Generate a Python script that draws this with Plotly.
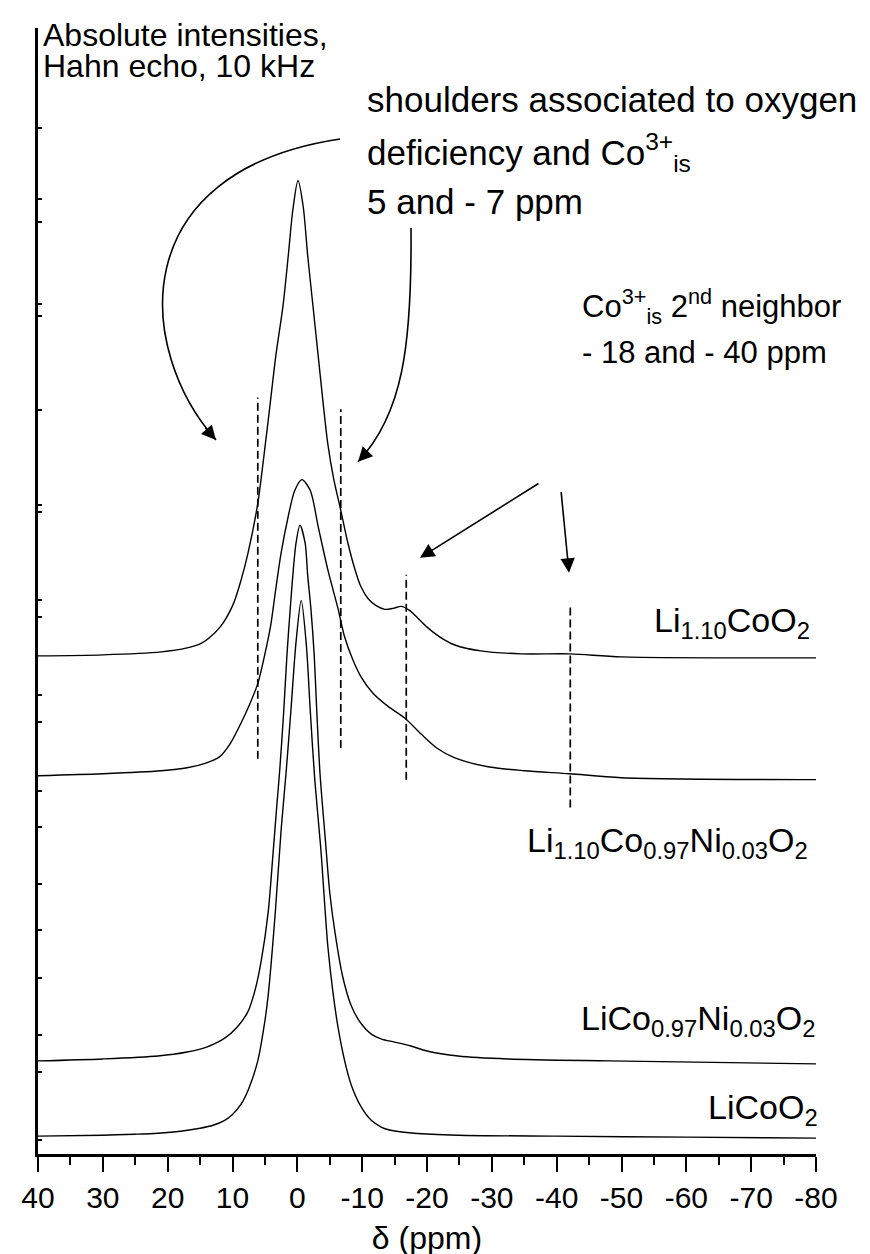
import plotly.graph_objects as go

# ---------------- data ----------------
# chemical shift (ppm) and intensity (a.u., relative to each trace's own baseline)
ppm_li110coo2 = [40.0, 30.0, 21.0, 17.0, 15.0, 13.8, 11.8, 9.9, 8.7, 7.6, 6.1, 5.3, 4.2, 3.3, 2.2,
                 1.4, 0.7, -0.1, -0.9, -1.6, -2.4, -3.2, -4.0, -4.7, -5.6, -6.7, -7.8, -8.9, -9.8,
                 -10.9, -12.1, -13.5, -14.8, -16.0, -17.3, -18.6, -20.0, -22.0, -24.3, -28.3,
                 -34.5, -42.1, -50.0, -80.0]
int_li110coo2 = [0.00, 0.01, 0.04, 0.08, 0.12, 0.17, 0.30, 0.52, 0.76, 1.04, 1.54, 1.94, 2.54, 3.04, 3.54,
                 4.04, 4.50, 4.80, 4.54, 4.04, 3.54, 3.04, 2.54, 2.14, 1.79, 1.47, 1.14, 0.87, 0.70,
                 0.58, 0.51, 0.47, 0.48, 0.50, 0.46, 0.38, 0.29, 0.19, 0.11, 0.05,
                 0.02, 0.02, -0.01, -0.02]

ppm_li110coni = [40.0, 30.0, 21.0, 17.0, 14.0, 12.0, 10.3, 8.7, 7.3, 6.1, 5.1, 4.1, 3.4, 2.5, 1.4,
                 0.4, -0.7, -2.0, -3.2, -4.7, -6.3, -7.3, -8.5, -9.8, -11.7, -14.0, -16.6, -19.1,
                 -21.5, -24.3, -29.4, -35.0, -42.0, -50.0, -80.0]
int_li110coni = [0.00, 0.02, 0.05, 0.08, 0.13, 0.19, 0.33, 0.53, 0.73, 0.93, 1.20, 1.52, 1.85, 2.25, 2.62,
                 2.88, 2.99, 2.88, 2.52, 2.08, 1.68, 1.40, 1.18, 1.00, 0.83, 0.70, 0.58, 0.42,
                 0.28, 0.18, 0.09, 0.05, 0.02, -0.02, -0.04]

ppm_liconi = [40.0, 30.0, 21.5, 17.0, 14.0, 11.2, 9.3, 7.6, 6.5, 5.6, 4.5, 3.8, 3.2, 2.7, 2.1,
              1.6, 1.1, 0.7, 0.2, -0.4, -1.2, -1.6, -2.1, -2.6, -3.0, -3.5, -4.3, -5.0, -5.8,
              -7.0, -8.3, -9.8, -11.4, -13.0, -15.0, -17.5, -20.0, -24.8, -32.5, -48.0, -80.0]
int_liconi = [0.00, 0.02, 0.05, 0.09, 0.14, 0.23, 0.34, 0.50, 0.72, 1.00, 1.50, 2.05, 2.55, 2.95, 3.53,
              4.10, 4.56, 4.90, 5.23, 5.41, 5.23, 4.90, 4.56, 4.10, 3.53, 2.90, 2.25, 1.70, 1.30,
              0.85, 0.56, 0.38, 0.27, 0.22, 0.19, 0.15, 0.10, 0.05, 0.02, 0.00, -0.03]

ppm_licoo2 = [40.0, 30.0, 25.0, 21.5, 18.0, 15.0, 13.0, 11.2, 10.0, 8.7, 7.5, 6.1, 5.2, 4.5, 3.4,
              2.5, 1.7, 1.0, 0.2, -0.6, -1.4, -2.0, -2.7, -3.6, -4.7, -5.5, -6.3, -7.3, -8.3,
              -9.8, -11.4, -13.0, -14.4, -18.0, -24.8, -40.0, -60.0, -80.0]
int_licoo2 = [0.00, 0.01, 0.02, 0.03, 0.05, 0.08, 0.11, 0.16, 0.22, 0.32, 0.48, 0.76, 1.08, 1.42, 2.26,
              3.09, 3.70, 4.29, 4.99, 5.41, 4.95, 4.29, 3.59, 2.92, 1.92, 1.45, 1.09, 0.76, 0.52,
              0.30, 0.16, 0.09, 0.06, 0.03, 0.01, 0.00, -0.01, -0.02]

# vertical offsets of the stacked spectra
offset_li110coo2 = 5.03
offset_li110coni = 3.82
offset_liconi = 0.94
offset_licoo2 = 0.18

# dashed marker lines (ppm) and their vertical extent
dashed_ppm = [6.1, -6.7, -16.8, -42.1]
dashed_low = [3.99, 4.10, 3.78, 3.50]
dashed_high = [7.64, 7.52, 5.85, 5.55]

x_tick_vals = [40, 30, 20, 10, 0, -10, -20, -30, -40, -50, -60, -70, -80]
x_tick_text = ["40", "30", "20", "10", "0", "-10", "-20", "-30", "-40", "-50", "-60", "-70", "-80"]
y_tick_vals = [10.36, 9.64, 9.41, 8.58, 8.46, 7.51, 6.55, 6.48, 5.59, 5.42, 4.63, 4.36,
               3.67, 3.30, 2.73, 2.26, 1.78, 1.20, 0.83, 0.14]

FONT = "Liberation Sans, Arial, Helvetica, sans-serif"

fig = go.Figure()

series = [
    (ppm_li110coo2, int_li110coo2, offset_li110coo2),
    (ppm_li110coni, int_li110coni, offset_li110coni),
    (ppm_liconi, int_liconi, offset_liconi),
    (ppm_licoo2, int_licoo2, offset_licoo2),
]
for xs, ys, off in series:
    fig.add_trace(go.Scatter(
        x=xs, y=[v + off for v in ys], mode="lines",
        line=dict(color="black", width=1.4, shape="spline", smoothing=0.8),
        showlegend=False, hoverinfo="skip"))

for xp, lo, hi in zip(dashed_ppm, dashed_low, dashed_high):
    fig.add_trace(go.Scatter(
        x=[xp, xp], y=[lo, hi], mode="lines",
        line=dict(color="black", width=1.7, dash="8px,4px"),
        showlegend=False, hoverinfo="skip"))

# ---------------- layout helpers (pixel -> paper) ----------------
L, R, T, B = 30, 808, 20, 1157


def px_x(px):
    return (px - L) / (R - L)


def px_y(py):
    return (B - py) / (B - T)


def ppm_of(px):
    return 40 - (px - L) * 120.0 / (R - L)


def int_of(py):
    return (B - py) / 100.0


annotations = []


def text(s, xpx, ypx, size, anchor="left"):
    annotations.append(dict(
        text=s, xref="paper", yref="paper", x=px_x(xpx), y=px_y(ypx),
        xanchor=anchor, yanchor="middle", showarrow=False,
        font=dict(family=FONT, size=size, color="black")))


text("Absolute intensities,", 33, 27, 32)
text("Hahn echo, 10 kHz", 33, 58, 32)
text("shoulders associated to oxygen", 357, 92, 35)
text("deficiency and Co<sup>3+</sup><sub>is</sub>", 357, 146, 35)
text("5 and - 7 ppm", 357, 195, 35)
text("Co<sup>3+</sup><sub>is</sub> 2<sup>nd</sup> neighbor", 572, 301, 31)
text("- 18 and - 40 ppm", 572, 348, 31)

text("Li<sub>1.10</sub>CoO<sub>2</sub>", 804, 620, 34, "right")
text("Li<sub>1.10</sub>Co<sub>0.97</sub>Ni<sub>0.03</sub>O<sub>2</sub>", 802, 842, 34, "right")
text("LiCo<sub>0.97</sub>Ni<sub>0.03</sub>O<sub>2</sub>", 809, 1022, 34, "right")
text("LiCoO<sub>2</sub>", 812, 1112, 34, "right")


def arrow(tail_px, head_px):
    annotations.append(dict(
        text="", x=ppm_of(head_px[0]), y=int_of(head_px[1]), xref="x", yref="y",
        ax=ppm_of(tail_px[0]), ay=int_of(tail_px[1]), axref="x", ayref="y",
        showarrow=True, arrowhead=2, arrowsize=1.8, arrowwidth=1.6,
        arrowcolor="black", standoff=0, startstandoff=0))


arrow((532, 479), (412, 555))
arrow((553, 487), (561, 570))

shapes = []


def curved_arrow(p0, p1, p2, p3):
    pts = [(ppm_of(a), int_of(b)) for a, b in (p0, p1, p2, p3)]
    path = "M {:.3f},{:.3f} C {:.3f},{:.3f} {:.3f},{:.3f} {:.3f},{:.3f}".format(
        pts[0][0], pts[0][1], pts[1][0], pts[1][1], pts[2][0], pts[2][1], pts[3][0], pts[3][1])
    shapes.append(dict(type="path", path=path, xref="x", yref="y",
                       line=dict(color="black", width=1.6)))
    # arrow head along end tangent
    tx = p3[0] - 0.15 * (p3[0] - p2[0])
    ty = p3[1] - 0.15 * (p3[1] - p2[1])
    arrow((tx, ty), p3)


curved_arrow((332, 132), (115, 165), (128, 345), (208, 436))
curved_arrow((403, 222), (404, 340), (395, 410), (350, 458))

fig.update_layout(
    width=870, height=1254,
    margin=dict(l=L, r=870 - R, t=T, b=1254 - B),
    paper_bgcolor="white", plot_bgcolor="white",
    font=dict(family=FONT, color="black"),
    annotations=annotations, shapes=shapes,
    xaxis=dict(
        range=[40, -80], tickmode="array", tickvals=x_tick_vals, ticktext=x_tick_text,
        ticks="outside", ticklen=15, tickwidth=2, tickcolor="black",
        minor=dict(ticks="outside", ticklen=8, tickwidth=2, tickcolor="black",
                   tickmode="linear", tick0=5, dtick=10),
        showline=True, linewidth=2.5, linecolor="black", showgrid=False, zeroline=False,
        tickfont=dict(family=FONT, size=30, color="black"),
        title=dict(text="δ (ppm)", font=dict(family=FONT, size=32, color="black"), standoff=14),
    ),
    yaxis=dict(
        range=[0, (B - T) / 100.0], tickmode="array", tickvals=y_tick_vals,
        ticks="inside", ticklen=4, tickwidth=1.5, tickcolor="black", showticklabels=False,
        showline=True, linewidth=2.5, linecolor="black", showgrid=False, zeroline=False,
    ),
)

fig.write_html("out.html")
